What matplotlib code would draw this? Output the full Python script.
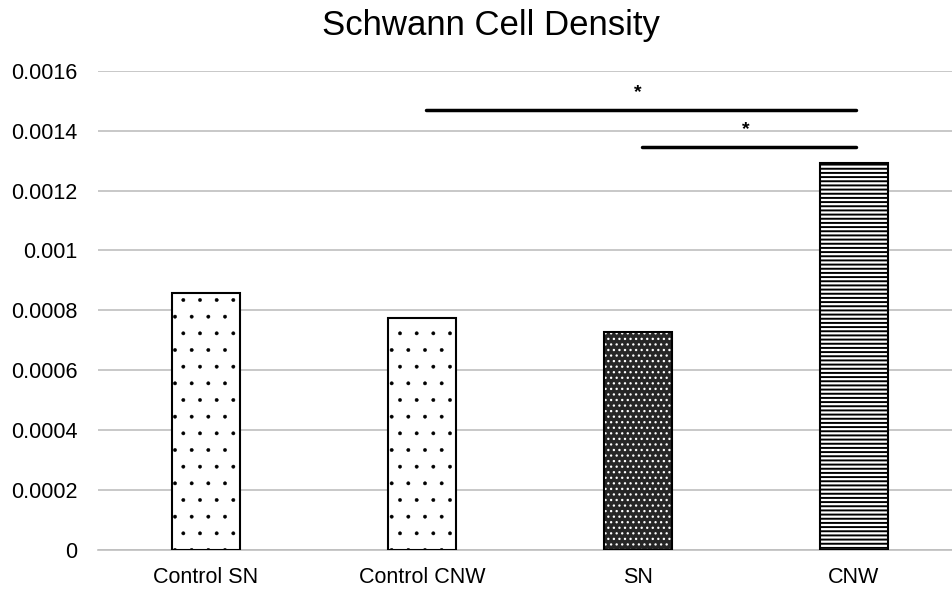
import numpy as np
import matplotlib
matplotlib.use("Agg")
import matplotlib.pyplot as plt

plt.rcParams['font.family'] = ['Liberation Sans', 'DejaVu Sans']

# data
groups = ["Control SN", "Control CNW", "SN", "CNW"]
density = [0.000858, 0.000775, 0.000728, 0.001292]
hatches = [".", ".", "...", "----"]
faces = ["white", "white", "#262626", "white"]
hatch_cols = ["black", "black", "white", "black"]
hatch_lws = [0.3, 0.3, 0.9, 1.4]

# significance brackets: (from group, to group, height)
sig_pairs = [(1, 3, 0.001469), (2, 3, 0.001346)]
sig_labels = ["*", "*"]

fig = plt.figure(figsize=(9.52, 5.9), dpi=100)
ax = fig.add_axes([0.103, 0.068, 0.897, 0.812])

x = np.arange(len(groups))
w = 0.315
for i in range(len(groups)):
    # hatch layer, then outline on top
    with plt.rc_context({'hatch.linewidth': hatch_lws[i]}):
        ax.bar(x[i], density[i], w, color=faces[i], edgecolor=hatch_cols[i],
               hatch=hatches[i], linewidth=0, zorder=3)
    ax.bar(x[i], density[i], w, fill=False, edgecolor="black",
           linewidth=1.5, zorder=4)

for (a, b, h), lab in zip(sig_pairs, sig_labels):
    ax.plot([x[a] + 0.02, x[b] + 0.01], [h, h], color="black", lw=2.5,
            solid_capstyle="round", zorder=5)
    ax.text((x[a] + x[b]) / 2, h + 0.00003, lab, ha="center", va="bottom",
            fontsize=14, fontweight="bold")

ax.set_xlim(-0.5, 3.455)
ax.set_ylim(0, 0.0016)
ax.set_yticks(np.arange(0, 0.00161, 0.0002))
ax.set_yticklabels(["0", "0.0002", "0.0004", "0.0006", "0.0008", "0.001",
                    "0.0012", "0.0014", "0.0016"])
ax.set_xticks(x)
ax.set_xticklabels(groups)
ax.tick_params(axis="both", length=0, labelsize=15.5)
ax.tick_params(axis="y", pad=15)
ax.tick_params(axis="x", pad=12)

ax.yaxis.grid(True, color="#bfbfbf", lw=1.2, zorder=0)
ax.set_axisbelow(True)
for s in ["top", "right", "left"]:
    ax.spines[s].set_visible(False)
ax.spines["bottom"].set_color("#bfbfbf")
ax.spines["bottom"].set_linewidth(1.2)

fig.text(0.516, 0.957, "Schwann Cell Density", ha="center", va="center",
         fontsize=25)

fig.savefig("out.png", dpi=100)
